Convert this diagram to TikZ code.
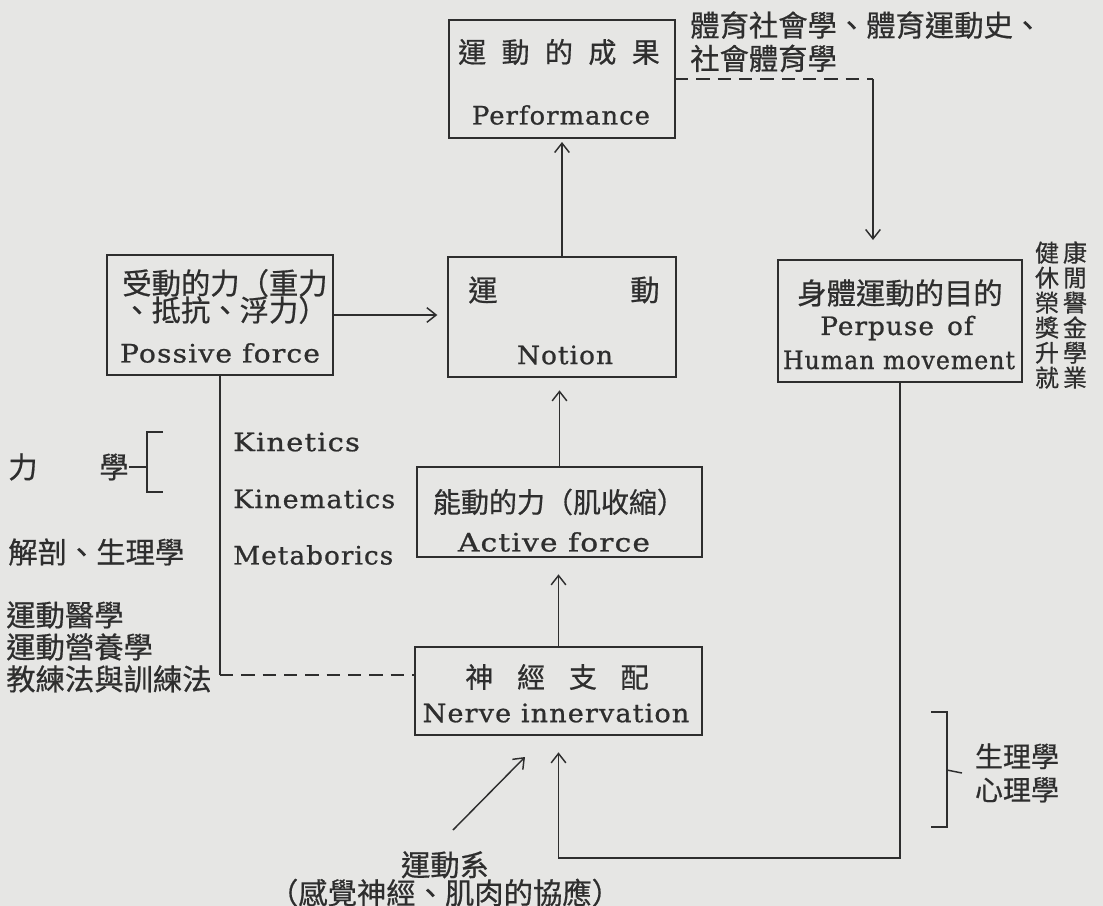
\documentclass[tikz,border=0pt]{standalone}
\usepackage{graphicx}
\usepackage{fontspec}
\setmainfont{DejaVu Serif}
\newfontfamily\cjk[FakeBold=0.6]{Noto Sans CJK TC}
\newfontfamily\lat[LetterSpace=4,FakeBold=0.8]{DejaVu Serif}
\usetikzlibrary{arrows.meta,calc}
\definecolor{bg}{HTML}{E6E6E4}
\definecolor{ink}{HTML}{2E2E2E}
\newcommand\fitx[2]{\resizebox{#1}{\height}{#2}}
\begin{document}
\begin{tikzpicture}[x=0.75pt,y=-0.75pt,
  box/.style={draw=ink, line width=1.3pt, inner sep=0pt, outer sep=0pt},
  conn/.style={draw=ink, line width=1.1pt},
  arr/.style={conn, -{Straight Barb[length=7pt,width=11pt]}},
  dsh/.style={conn, dash pattern=on 10pt off 6pt},
  zh/.style={font=\cjk\fontsize{22}{24}\selectfont, text=ink, inner sep=0pt},
  zhs/.style={font=\cjk\fontsize{21}{24}\selectfont, text=ink, inner sep=0pt},
  en/.style={font=\lat\fontsize{19}{22}\selectfont, text=ink, inner sep=0pt},
]
\fill[bg] (0,0) rectangle (1103,906);
\useasboundingbox (0,0) rectangle (1103,906);

% boxes
\node[box, minimum width=169.5pt, minimum height=88.5pt] (perf) at (562,79) {};
\node[box, minimum width=171pt, minimum height=90pt] (notion) at (562,317) {};
\node[box, minimum width=169.5pt, minimum height=90pt] (poss) at (220,315) {};
\node[box, minimum width=183pt, minimum height=91.5pt] (purp) at (900,321) {};
\node[box, minimum width=213.75pt, minimum height=67.5pt] (active) at (559.5,512) {};
\node[box, minimum width=215.25pt, minimum height=66pt] (nerve) at (558.5,691) {};

% box texts
\node[zhs] (perfzh) at (559,52) {運\hspace{0.55em}動\hspace{0.55em}的\hspace{0.55em}成\hspace{0.55em}果};
\node[en] (perfen) at (561,115) {\fitx{133.5pt}{Performance}};
\node[zh] (n1) at (483,290) {運};
\node[zh] (n2) at (645,290) {動};
\node[en] (n3) at (565,355) {\fitx{72pt}{Notion}};
\node[zh] (p1) at (225,283) {受動的力（重力};
\node[zh] (p2) at (225,310) {、抵抗、浮力）};
\node[en] (p3) at (220,353) {\fitx{150pt}{Possive force}};
\node[zh] (u1) at (900,293) {身體運動的目的};
\node[en] (u2) at (897,328) {\fitx{115pt}{Perpuse\hspace{0.5em}of}};
\node[en] (u3) at (899,360) {\fitx{174pt}{Human movement}};
\node[zhs] (a1) at (559,502) {能動的力（肌收縮）};
\node[en] (a2) at (554,542) {\fitx{144pt}{Active force}};
\node[zhs] (v1) at (557,677) {神\hspace{0.85em}經\hspace{0.85em}支\hspace{0.85em}配};
\node[en] (v2) at (556,713) {\fitx{200pt}{Nerve innervation}};

% free texts
\node[zh, anchor=north west, align=left, font=\cjk\fontsize{22}{25}\selectfont] (top) at (690,11) {體育社會學、體育運動史、\\社會體育學};
\node[zh, align=center, font=\cjk\fontsize{18}{18.75}\selectfont] (goals) at (1061,315) {健\hspace{3pt}康\\休\hspace{3pt}閒\\榮\hspace{3pt}譽\\獎\hspace{3pt}金\\升\hspace{3pt}學\\就\hspace{3pt}業};
\node[en, anchor=west] (k1) at (233,442) {\fitx{95pt}{Kinetics}};
\node[en, anchor=west] (k2) at (233,499) {\fitx{121.5pt}{Kinematics}};
\node[en, anchor=west] (k3) at (233,555) {\fitx{120pt}{Metaborics}};
\node[zh] (li) at (23,467) {力};
\node[zh] (xue) at (114,467) {學};
\node[zh, anchor=west] (anat) at (8,552) {解剖、生理學};
\node[zh, anchor=west, align=left, font=\cjk\fontsize{22}{24}\selectfont] (med) at (6,647) {運動醫學\\運動營養學\\教練法與訓練法};
\node[zh, align=center, font=\cjk\fontsize{21}{25}\selectfont] (psy) at (1017,773) {生理學\\心理學};
\node[zh, align=center, font=\cjk\fontsize{22}{21}\selectfont] (sys) at (445,879) {運動系\\（感覺神經、肌肉的協應）};

% connectors
\coordinate (c1) at (873,79);
\draw[dsh] (perf.east) -- (c1);
\draw[arr, shorten >=15pt] (c1) -- (c1 |- purp.north);
\draw[arr, shorten >=3pt] (notion.north) -- (perf.south);
\draw[arr, shorten >=8pt] (poss.east) -- (poss.east -| notion.west);
\draw[arr, shorten >=10pt] (active.north) -- (active.north |- notion.south);
\draw[arr, shorten >=13pt] (nerve.north) -- (nerve.north |- active.south);
\coordinate (c2) at (220,675);
\draw[conn] (poss.south) -- (c2);
\draw[dsh] (c2) -- (c2 -| nerve.west);
\coordinate (c3) at (900,858);
\draw[arr, shorten >=13pt] (purp.south) -- (c3) -- (nerve.south |- c3) -- (nerve.south);
\coordinate (d1) at (453,830);
\coordinate (d2) at (525,757);
\draw[arr] (d1) -- (d2);

% brackets
\draw[conn] (xue.east) -- (147,467);
\draw[conn] (163,432) -- (147,432) -- (147,492) -- (163,492);
\draw[conn] (931,712) -- (947,712) -- (947,827) -- (931,827);
\draw[conn] (947,770) -- (psy.west -| 962,770);
\end{tikzpicture}
\end{document}
